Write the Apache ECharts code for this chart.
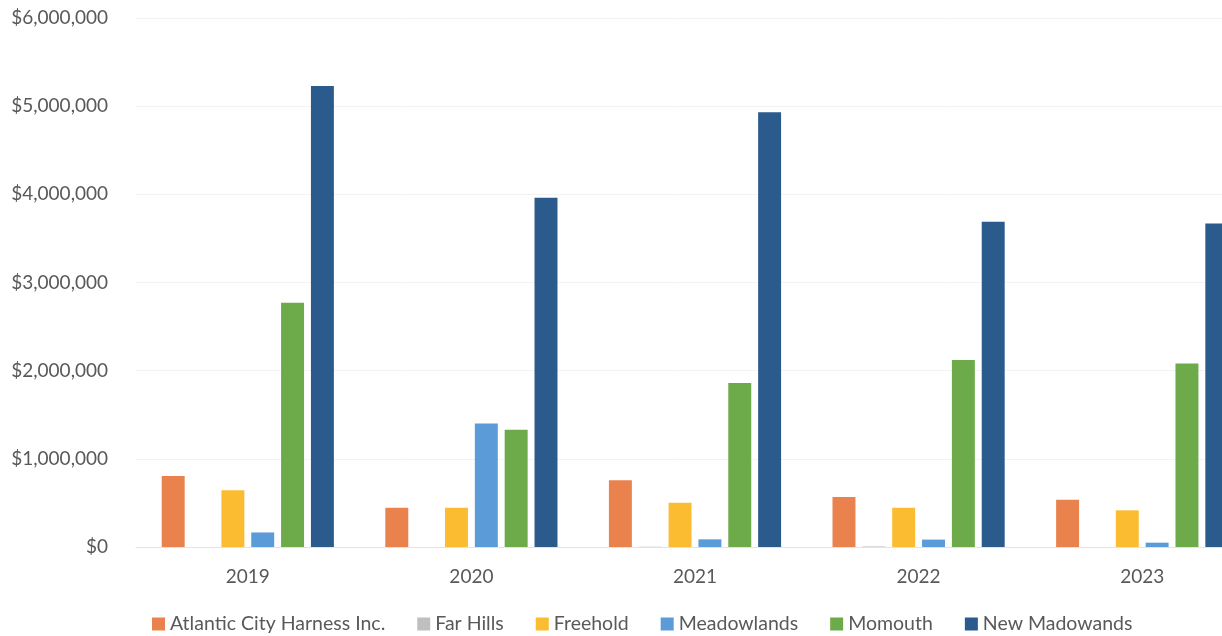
<!DOCTYPE html>
<html><head><meta charset="utf-8">
<script src="https://cdn.jsdelivr.net/npm/echarts@6/dist/echarts.min.js"></script>
<style>html,body{margin:0;padding:0;background:#fff}#c{width:1222px;height:636px}</style>
</head><body><div id="c"></div>
<script>
const categories = ['2019','2020','2021','2022','2023'];
const seriesNames = ['Atlantic City Harness Inc.','Far Hills','Freehold','Meadowlands','Momouth','New Madowands'];
const atlanticCity = [805000, 445000, 757000, 567000, 537000];
const farHills = [0, 0, 3000, 6000, 0];
const freehold = [645000, 445000, 503000, 445000, 416000];
const meadowlands = [165000, 1400000, 87000, 84000, 49000];
const momouth = [2770000, 1330000, 1860000, 2120000, 2080000];
const newMadowands = [5230000, 3960000, 4930000, 3690000, 3670000];
const yTicks = [0, 1000000, 2000000, 3000000, 4000000, 5000000, 6000000];
const colors = ['#E9824C','#BFBFBF','#FBBC32','#5B9BD8','#6DAA4A','#2B5B8C'];
const allValues = [atlanticCity, farHills, freehold, meadowlands, momouth, newMadowands];

const font = 'Lato';
const chart = echarts.init(document.getElementById('c'), null, {renderer:'canvas'});
chart.setOption({
  animation:false,
  color: colors,
  grid:{left:136, top:18, width:1118, height:529, containLabel:false, outerBoundsMode:'none'},
  legend:{
    left:152, top:614, padding:0, itemWidth:13, itemHeight:13, itemGap:32,
    icon:'rect',
    textStyle:{fontFamily:font, fontSize:19.5, color:'#595959'},
    data: seriesNames
  },
  xAxis:{
    type:'category', data:categories,
    axisTick:{show:false},
    axisLine:{lineStyle:{color:'#e3e3e3'}},
    axisLabel:{fontFamily:font, fontSize:19, color:'#595959', margin:20}
  },
  yAxis:{
    type:'value', min:yTicks[0], max:yTicks[yTicks.length-1], interval:1000000,
    axisLine:{show:false}, axisTick:{show:false},
    splitLine:{lineStyle:{color:'#f3f3f3'}},
    axisLabel:{fontFamily:font, fontSize:19, color:'#595959', margin:28,
      formatter:v=>'$'+v.toLocaleString('en-US')}
  },
  series: seriesNames.map((n,i)=>({
    name:n, type:'bar', data:allValues[i],
    barGap:'30%', barCategoryGap:'23%'
  }))
});
</script></body></html>
